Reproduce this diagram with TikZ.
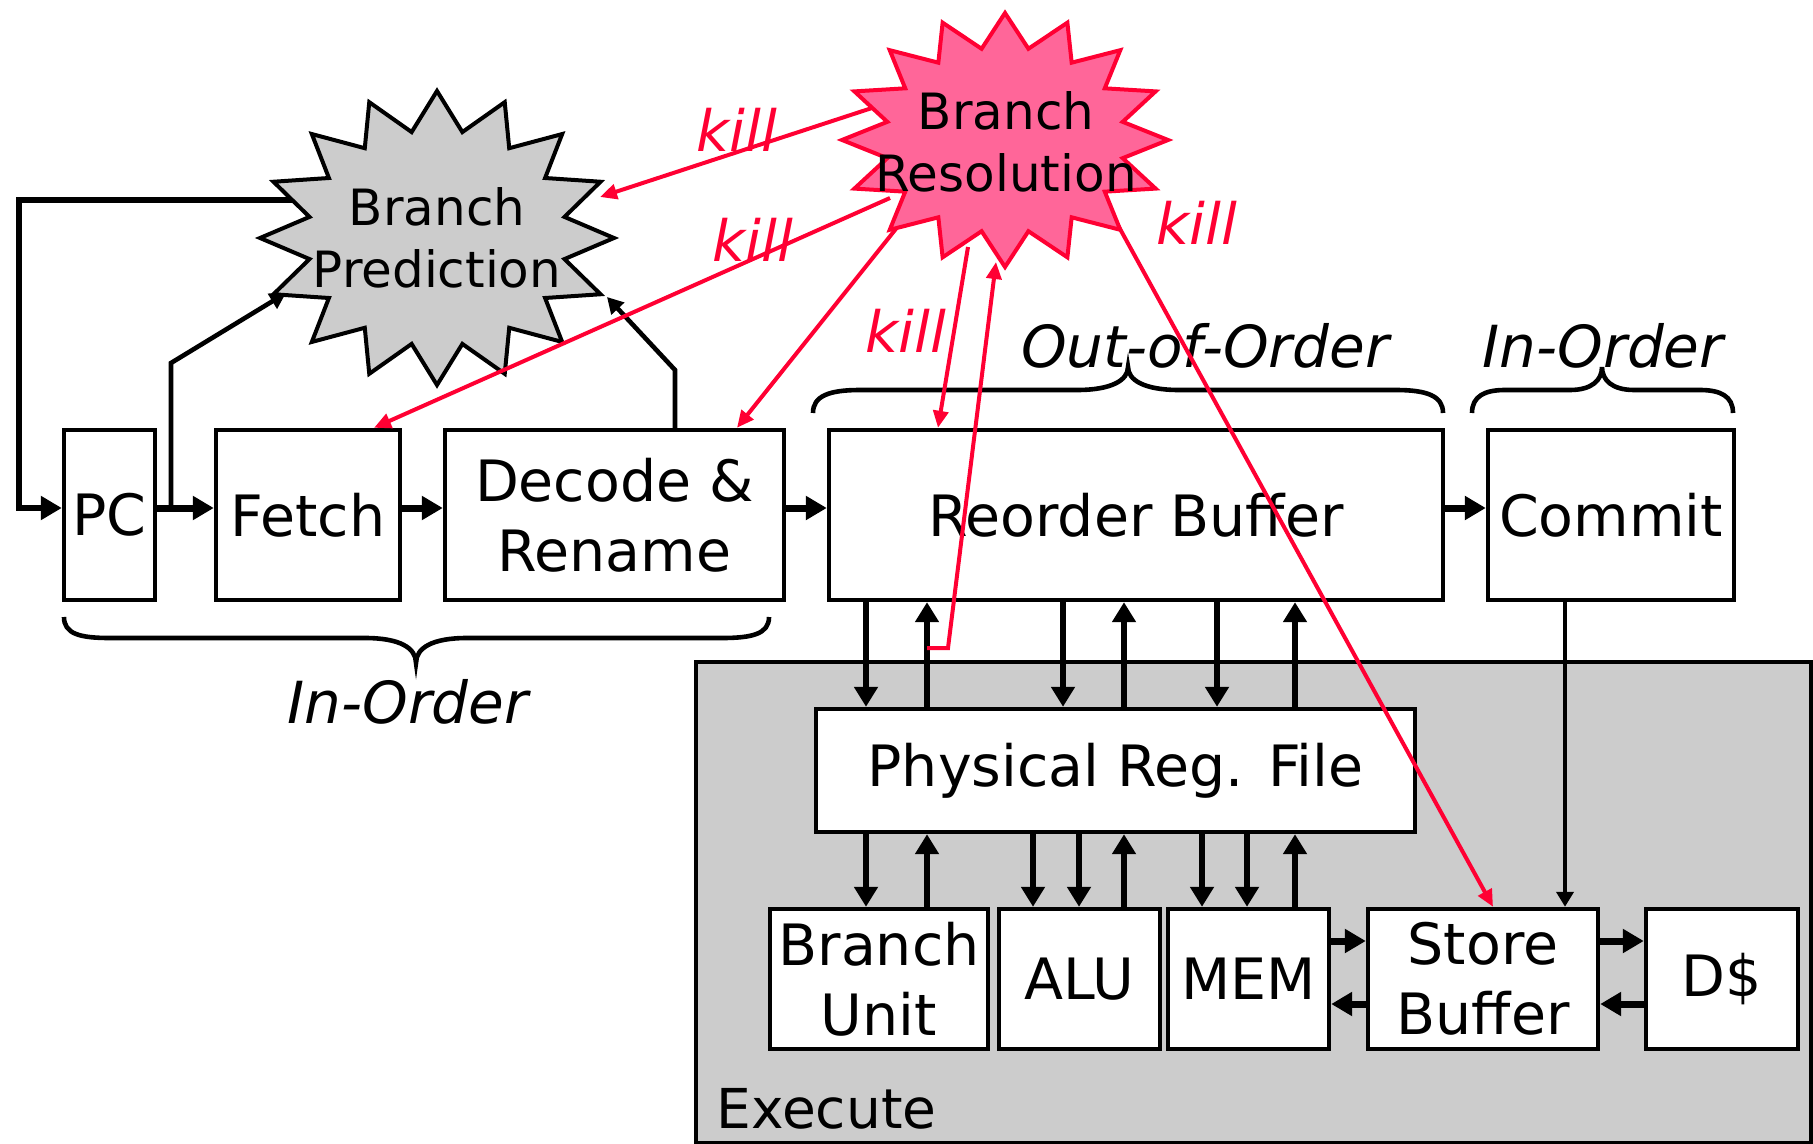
\documentclass[tikz,border=0pt]{standalone}
\usepackage{fontspec}
\setmainfont{DejaVu Sans}
\usetikzlibrary{arrows.meta,fit,calc}

\definecolor{killred}{HTML}{FF0033}
\definecolor{brpink}{HTML}{FF6699}
\definecolor{panelgray}{HTML}{CCCCCC}

\begin{document}
\begin{tikzpicture}[x=0.5pt,y=-0.5pt,
  box/.style={draw, line width=2.2pt, fill=white, inner sep=0pt, align=center,
              font=\fontsize{28.5}{35}\selectfont},
  startext/.style={align=center, inner sep=0pt, font=\fontsize{25}{31}\selectfont},
  lbl/.style={inner sep=0pt, font=\fontsize{29}{34}\selectfont\itshape},
  killlbl/.style={inner sep=0pt, text=killred, font=\fontsize{28.5}{32}\selectfont\itshape},
  pipe/.style={line width=3.5pt, -{Triangle[length=10.5pt,width=11.5pt]}},
  bus/.style={line width=3.4pt, -{Triangle[length=10pt,width=11.5pt]}},
  thinarr/.style={line width=2.3pt, -{Triangle[length=8pt,width=8.5pt]}},
  killarr/.style={draw=killred, line width=2pt, -{Triangle[length=8.5pt,width=7.5pt]}},
  brace/.style={line width=2.3pt},
]
% canvas
\fill[white] (0,0) rectangle (1813,1144);
\useasboundingbox (0,0) rectangle (1813,1144);

% execute panel
\node[draw, line width=1.6pt, fill=panelgray, inner sep=0pt, fit={(696,662) (1811,1143)}] (exec) {};
\node[anchor=west, inner sep=0pt, font=\fontsize{27.5}{34}\selectfont] (execlbl) at (716,1109) {Execute};

% pipeline boxes (centre, width, height in half-points)
\node[box, minimum width=45.5pt, minimum height=85pt] (pc) at (109.5,515) {PC};
\node[box, minimum width=92pt, minimum height=85pt] (fetch) at (308,515) {Fetch};
\node[box, minimum width=169.5pt, minimum height=85pt] (dec) at (614.5,515) {Decode \&\\Rename};
\node[box, minimum width=307pt, minimum height=85pt] (rob) at (1136,515) {Reorder Buffer};
\node[box, minimum width=123pt, minimum height=85pt] (commit) at (1611,515) {Commit};
\node[box, minimum width=299.5pt, minimum height=61.5pt] (prf) at (1115.5,770.5) {Physical Reg. File};
\node[box, minimum width=109pt, minimum height=70pt] (bu) at (879,979) {Branch\\Unit};
\node[box, minimum width=80.5pt, minimum height=70pt] (alu) at (1079.5,979) {ALU};
\node[box, minimum width=80.5pt, minimum height=70pt] (mem) at (1248.5,979) {MEM};
\node[box, minimum width=115pt, minimum height=70pt] (sb) at (1483,979) {Store\\Buffer};
\node[box, minimum width=76pt, minimum height=70pt] (dc) at (1722,979) {D\$};

% braces and their labels
\draw[brace] (64,617) .. controls (64,634) and (80,638) .. (110,638) -- (365,638)
  .. controls (400,638) and (416,648) .. (416,663)
  .. controls (416,648) and (432,638) .. (467,638) -- (722,638)
  .. controls (752,638) and (769,634) .. (769,617);
\node[lbl] (inorder1) at (408,702) {In-Order};
\draw[brace] (813,413) .. controls (813,396) and (829,390) .. (860,390) -- (1077,390)
  .. controls (1112,390) and (1128,380) .. (1128,367)
  .. controls (1128,380) and (1144,390) .. (1179,390) -- (1396,390)
  .. controls (1427,390) and (1443,396) .. (1443,413);
\node[lbl] (ooo) at (1205,346) {Out-of-Order};
\draw[brace] (1472,413) .. controls (1472,396) and (1485,390) .. (1505,390) -- (1570,390)
  .. controls (1592,390) and (1602,380) .. (1602,367)
  .. controls (1602,380) and (1612,390) .. (1634,390) -- (1700,390)
  .. controls (1720,390) and (1733,396) .. (1733,413);
\node[lbl] (inorder2) at (1603,346) {In-Order};

% rows and columns of the connectors
\coordinate (prow) at (0,508);
\coordinate (r1) at (0,941);
\coordinate (r2) at (0,1004);
\coordinate (c1) at (866,0);
\coordinate (c2) at (927,0);
\coordinate (c3) at (1063,0);
\coordinate (c4) at (1124,0);
\coordinate (c5) at (1217,0);
\coordinate (c6) at (1295,0);
\coordinate (c7) at (1033,0);
\coordinate (c8) at (1079,0);
\coordinate (c9) at (1202,0);
\coordinate (c10) at (1247,0);
\coordinate (c11) at (1565,0);

% pipeline flow
\draw[pipe] (pc.east |- prow) -- (fetch.west |- prow);
\draw[pipe] (fetch.east |- prow) -- (dec.west |- prow);
\draw[pipe] (dec.east |- prow) -- (rob.west |- prow);
\draw[pipe] (rob.east |- prow) -- (commit.west |- prow);

% ROB <-> register file
\draw[bus] (rob.south -| c1) -- (prf.north -| c1);
\draw[bus] (prf.north -| c2) -- (rob.south -| c2);
\draw[bus] (rob.south -| c3) -- (prf.north -| c3);
\draw[bus] (prf.north -| c4) -- (rob.south -| c4);
\draw[bus] (rob.south -| c5) -- (prf.north -| c5);
\draw[bus] (prf.north -| c6) -- (rob.south -| c6);

% register file <-> functional units
\draw[bus] (prf.south -| c1) -- (bu.north -| c1);
\draw[bus] (bu.north -| c2) -- (prf.south -| c2);
\draw[bus] (prf.south -| c7) -- (alu.north -| c7);
\draw[bus] (prf.south -| c8) -- (alu.north -| c8);
\draw[bus] (alu.north -| c4) -- (prf.south -| c4);
\draw[bus] (prf.south -| c9) -- (mem.north -| c9);
\draw[bus] (prf.south -| c10) -- (mem.north -| c10);
\draw[bus] (mem.north -| c6) -- (prf.south -| c6);

% memory side
\draw[pipe] (mem.east |- r1) -- (sb.west |- r1);
\draw[pipe] (sb.west |- r2) -- (mem.east |- r2);
\draw[pipe] (sb.east |- r1) -- (dc.west |- r1);
\draw[pipe] (dc.west |- r2) -- (sb.east |- r2);
\draw[line width=2pt, -{Triangle[length=7.5pt,width=8.5pt]}] (commit.south -| c11) -- (sb.north -| c11);

% predictor feedback
\coordinate (bpL) at (292,200);
\coordinate (loopc) at (19,200);
\coordinate (pcb) at (171,508);
\coordinate (pcbend) at (171,363);
\coordinate (bpSW) at (286,293);
\coordinate (dcol) at (675,0);
\coordinate (decbend) at (675,370);
\coordinate (bpSE) at (607,297);
\draw[line width=3pt, -{Triangle[length=10.5pt,width=11.5pt]}] (bpL) -- (loopc) |- (pc.west |- prow);
\draw[thinarr] (pcb) -- (pcbend) -- (bpSW);
\draw[thinarr] (dec.north -| dcol) -- (decbend) -- (bpSE);

% branch prediction burst
\draw[line width=2pt, fill=panelgray, shift={(437,238)}]
  (90:177 and 147)
  \foreach \i in {0,...,15} { -- ({90+\i*22.5}:177 and 147) -- ({101.25+\i*22.5}:130 and 108) }
  -- cycle;
\node[startext] (bp) at (437,238) {Branch\\Prediction};

% kill signals
\coordinate (brW) at (872,108);
\coordinate (bpE) at (600,197);
\coordinate (brW2) at (890,198);
\coordinate (kf) at (374,0);
\coordinate (brSW) at (907,215);
\coordinate (kd) at (737,0);
\coordinate (brS) at (968,247);
\coordinate (kr) at (938,0);
\coordinate (brSE) at (1103,198);
\coordinate (ks) at (1493,0);
\coordinate (kturn) at (948,648);
\coordinate (brB) at (996,262);
\draw[killarr] (brW) -- (bpE);
\draw[killarr] (brW2) -- (fetch.north -| kf);
\draw[killarr] (brSW) -- (dec.north -| kd);
\draw[killarr] (brS) -- (rob.north -| kr);
\draw[killarr] (brSE) -- (sb.north -| ks);

% branch resolution burst
\draw[line width=2pt, draw=killred, fill=brpink, shift={(1005,140)}]
  (90:163 and 127)
  \foreach \i in {0,...,15} { -- ({90+\i*22.5}:163 and 127) -- ({101.25+\i*22.5}:120 and 93) }
  -- cycle;
\node[startext] (br) at (1006,142) {Branch\\Resolution};

% resolved branch reported back from the register file port
\draw[killarr] (c2 |- kturn) -- (kturn) -- (brB);

\node[killlbl] (k1) at (737,130) {kill};
\node[killlbl] (k2) at (753,240) {kill};
\node[killlbl] (k3) at (906,331) {kill};
\node[killlbl] (k4) at (1197,223) {kill};
\end{tikzpicture}
\end{document}
